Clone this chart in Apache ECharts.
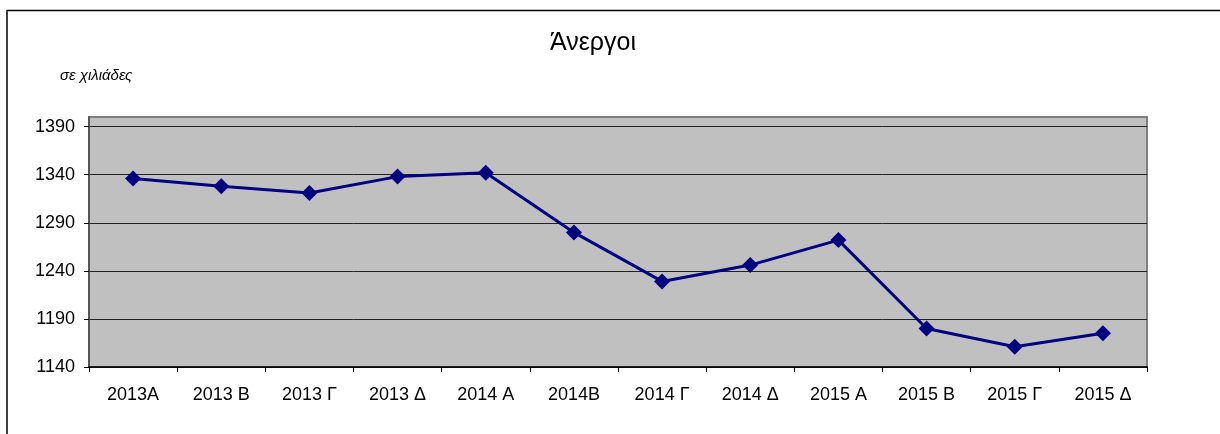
<!DOCTYPE html>
<html>
<head>
<meta charset="utf-8">
<title>Άνεργοι</title>
<script src="https://cdn.jsdelivr.net/npm/echarts@6/dist/echarts.min.js"></script>
<style>
  html, body { margin: 0; padding: 0; background: #fff; }
  #chart { width: 1220px; height: 434px; }
</style>
</head>
<body>
<div id="chart"></div>
<script>
// quarters
const categories = ["2013A", "2013 Β", "2013 Γ", "2013 Δ", "2014 Α", "2014Β",
  "2014 Γ", "2014 Δ", "2015 Α", "2015 Β", "2015 Γ", "2015 Δ"];
// unemployed, thousands
const unemployed = [1336, 1328, 1321, 1338, 1342, 1280, 1229, 1246, 1272, 1180, 1161, 1175];
const yTicks = [1140, 1190, 1240, 1290, 1340, 1390];

const font = '"Liberation Sans", Arial, sans-serif';
const chart = echarts.init(document.getElementById("chart"));

chart.setOption({
  animation: false,
  backgroundColor: "#fff",
  graphic: [
    {
      type: "rect",
      shape: { x: 7, y: 10.5, width: 1300, height: 500 },
      style: { fill: "none", stroke: "#000", lineWidth: 1.5 },
      silent: true
    }
  ],
  title: [
    {
      text: "Άνεργοι",
      left: 588,
      textAlign: "center",
      top: 26,
      textStyle: { fontFamily: font, fontSize: 25, fontWeight: "normal", color: "#000" }
    },
    {
      text: "σε χιλιάδες",
      left: 55,
      top: 63,
      textStyle: { fontFamily: font, fontSize: 15, fontStyle: "italic", fontWeight: "normal", color: "#000" }
    }
  ],
  grid: {
    left: 89,
    right: 73,
    top: 117,
    bottom: 67,
    show: true,
    backgroundColor: "#c0c0c0",
    borderColor: "#808080",
    borderWidth: 2
  },
  xAxis: {
    type: "category",
    data: categories,
    boundaryGap: true,
    axisLine: { lineStyle: { color: "#000", width: 1.5 } },
    axisTick: { show: true, length: 5, lineStyle: { color: "#000" } },
    axisLabel: { fontFamily: font, fontSize: 18, color: "#000", margin: 19, interval: 0 },
    splitLine: { show: false }
  },
  yAxis: {
    type: "value",
    min: 1140,
    max: 1400,
    interval: 50,
    axisLine: { show: true, lineStyle: { color: "#555", width: 2 } },
    axisTick: { show: true, length: 5, customValues: yTicks, lineStyle: { color: "#000" } },
    axisLabel: {
      fontFamily: font, fontSize: 18, color: "#000", margin: 14,
      customValues: yTicks,
      formatter: v => String(v)
    },
    splitLine: { show: true, lineStyle: { color: "#222", width: 1 } }
  },
  series: [
    {
      name: "Άνεργοι",
      type: "line",
      data: unemployed,
      symbol: "diamond",
      symbolSize: [16, 16],
      lineStyle: { color: "#000080", width: 3 },
      itemStyle: { color: "#000080" }
    }
  ]
});
</script>
</body>
</html>
